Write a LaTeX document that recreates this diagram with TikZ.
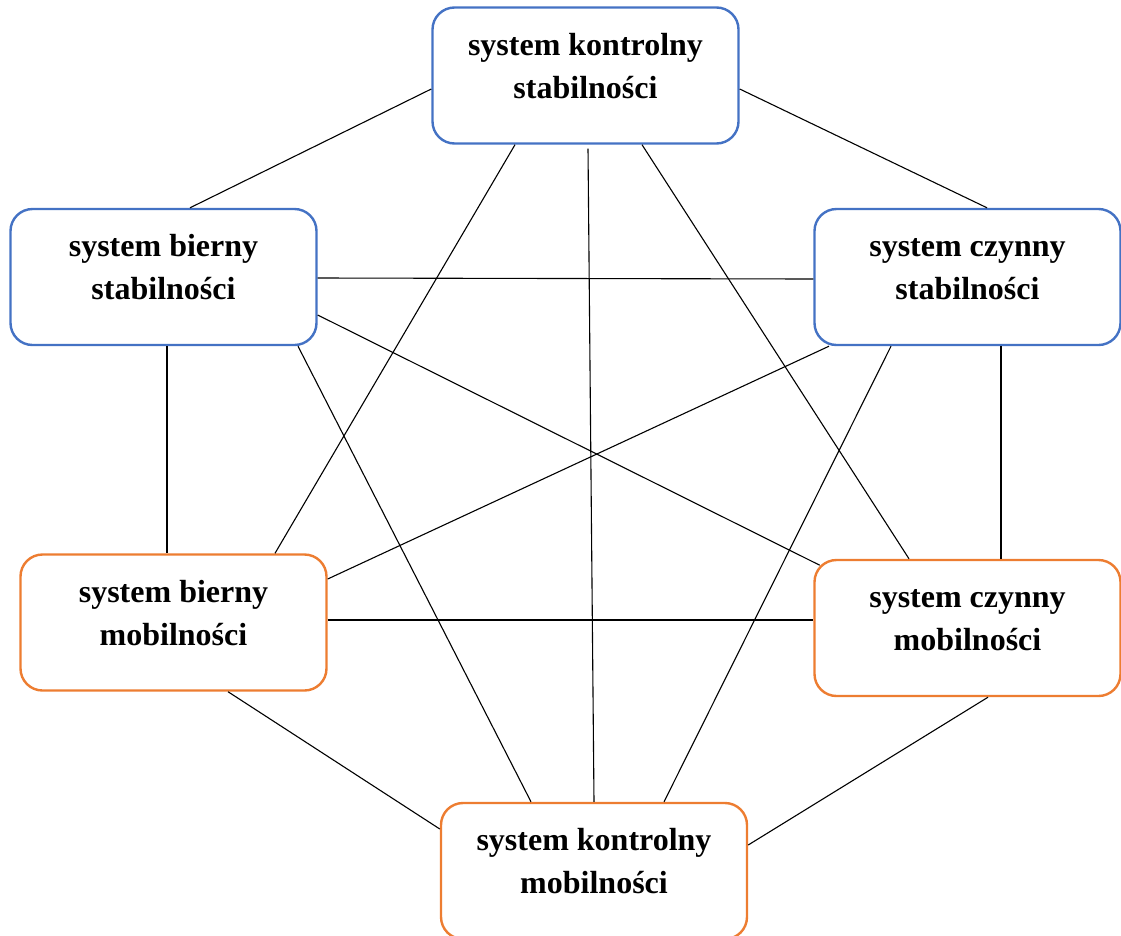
\documentclass[tikz,border=0pt]{standalone}
\usepackage{fontspec}
\setmainfont{Liberation Serif}
\definecolor{boxblue}{HTML}{4472C4}
\definecolor{boxorange}{HTML}{ED7D31}
\begin{document}
\begin{tikzpicture}[x=1pt,y=1pt,
  sysbox/.style={draw, rounded corners=22pt, line width=2.4pt, fill=white,
    minimum width=306pt, minimum height=136pt, inner sep=0pt},
  stab/.style={sysbox, draw=boxblue},
  mob/.style={sysbox, draw=boxorange},
  txt/.style={align=center, inner sep=0pt,
    font=\fontsize{32}{43}\selectfont\bfseries},
  link/.style={draw=black, line width=1.1pt}]
\useasboundingbox (0,0) rectangle (1121,-935);

% the six boxes
\node[stab] (kstab) at (585.5,-75.5) {};
\node[stab] (bstab) at (163.5,-277) {};
\node[stab] (cstab) at (967.5,-277) {};
\node[mob]  (bmob)  at (173.5,-622.5) {};
\node[mob]  (cmob)  at (967.5,-628) {};
\node[mob]  (kmob)  at (594,-871) {};

% every box is joined to every other one
\draw[link] ([yshift=-13.5pt]kstab.west) -- ([xshift=26.5pt]bstab.north);
\draw[link] ([yshift=-13.5pt]kstab.east) -- ([xshift=19.5pt]cstab.north);
\draw[link] ([xshift=-70.5pt]kstab.south) -- ([xshift=101.5pt]bmob.north);
\draw[link] ([xshift=2.5pt,yshift=-4pt]kstab.south) -- (kmob.north);
\draw[link] ([xshift=56.5pt]kstab.south) -- ([xshift=-58.5pt]cmob.north);
\draw[link] ([yshift=-1pt]bstab.east) -- ([yshift=-2pt]cstab.west);
\draw[link] ([xshift=3.5pt]bstab.south) -- ([xshift=-6.5pt]bmob.north);
\draw[link] ([yshift=-38pt]bstab.east) -- ([shift={(6.4pt,-6.4pt)}]cmob.north west);
\draw[link] ([xshift=134.5pt]bstab.south) -- ([xshift=-63pt]kmob.north);
\draw[link] ([xshift=-138.5pt]cstab.south) -- ([yshift=43.5pt]bmob.east);
\draw[link] ([xshift=33.5pt]cstab.south) -- ([xshift=33.5pt]cmob.north);
\draw[link] ([xshift=-76.5pt]cstab.south) -- ([xshift=70pt]kmob.north);
\draw[link] ([yshift=2.5pt]bmob.east) -- ([yshift=8pt]cmob.west);
\draw[link] ([xshift=54.5pt]bmob.south) -- ([yshift=42pt]kmob.west);
\draw[link] ([xshift=20.5pt]cmob.south) -- ([yshift=26pt]kmob.east);

% labels
\node[txt] (kstab-t) at ([yshift=7.6pt]kstab.center) {\strut system kontrolny\\\strut stabilności};
\node[txt] (bstab-t) at ([yshift=7.6pt]bstab.center) {\strut system bierny\\\strut stabilności};
\node[txt] (cstab-t) at ([yshift=7.6pt]cstab.center) {\strut system czynny\\\strut stabilności};
\node[txt] (bmob-t)  at ([yshift=7.6pt]bmob.center)  {\strut system bierny\\\strut mobilności};
\node[txt] (cmob-t)  at ([yshift=7.6pt]cmob.center)  {\strut system czynny\\\strut mobilności};
\node[txt] (kmob-t)  at ([yshift=7.6pt]kmob.center)  {\strut system kontrolny\\\strut mobilności};
\end{tikzpicture}
\end{document}
